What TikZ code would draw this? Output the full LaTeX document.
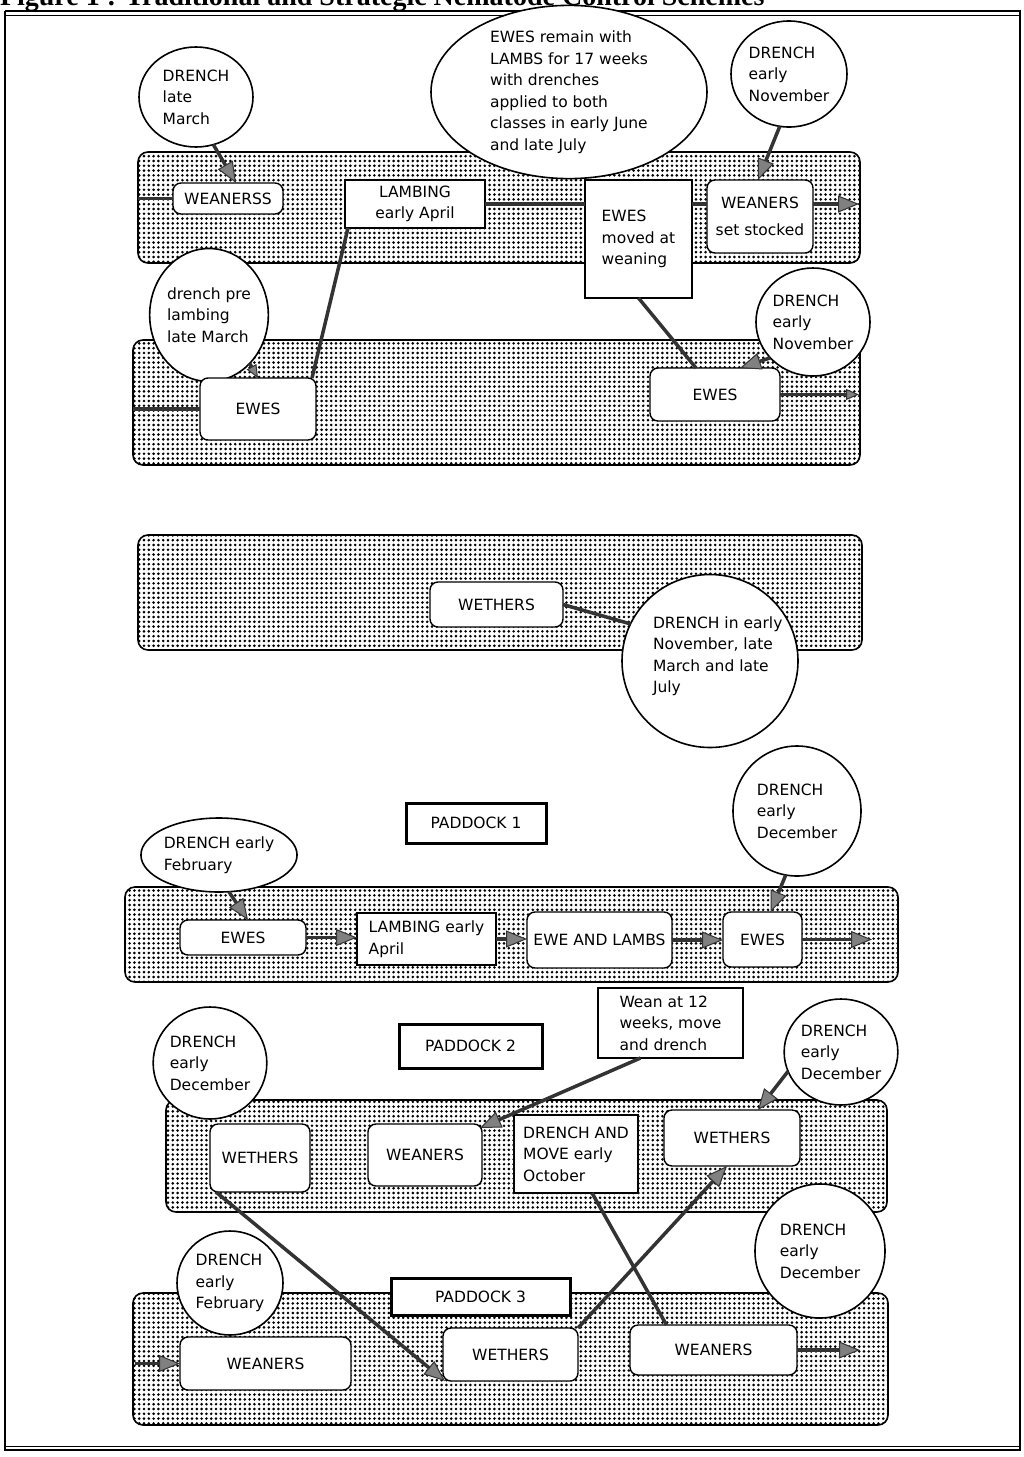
\documentclass[tikz,border=0pt]{standalone}
\usepackage{fontspec}
\setmainfont{DejaVu Sans}
\newfontfamily\titlefont{Liberation Serif}
\usetikzlibrary{shapes.geometric,arrows.meta,patterns.meta}
\begin{document}
\begin{tikzpicture}[x=1pt,y=-1pt,
  every node/.style={font=\fontsize{15.5}{21.5}\selectfont, inner sep=0pt, outer sep=0pt},
  band/.style={draw, line width=1.6pt, rounded corners=10pt, preaction={fill=white},
    pattern={Dots[distance=4.8pt,radius=1.45pt]}, pattern color=black},
  rbox/.style={draw, fill=white, line width=1.4pt, rounded corners=8pt, align=center},
  sbox/.style={draw, fill=white, line width=1.4pt, align=left},
  pbox/.style={draw, fill=white, line width=3pt},
  ell/.style={ellipse, draw, fill=white, line width=1.6pt, align=left},
  conn/.style={draw=black!80, line width=3.5pt},
  arr/.style={-{Triangle[length=21pt,width=17pt,fill=black!50,line width=1pt]}},
  sarr/.style={-{Triangle[length=13pt,width=11pt,fill=black!50,line width=1pt]}}
]
\useasboundingbox (0,0) rectangle (1024,1457);
% title (cut at the top edge) and frame
\node[anchor=base west, font=\titlefont\bfseries\fontsize{28}{28}\selectfont] (title) at (0,5) {Figure 1 : Traditional and Strategic Nematode Control Schemes};
\draw[line width=2pt] (5,11) -- (1021,11);
\draw[line width=1pt] (5,15) -- (1021,15);
\draw[line width=2.5pt] (5,11) -- (5,1451);
\draw[line width=1.5pt] (1020,11) -- (1020,1451);
\draw[line width=1pt] (5,1446) -- (1021,1446);
\draw[line width=2pt] (5,1450) -- (1021,1450);

% bands
\node[band, minimum width=722pt, minimum height=111pt] (b1) at (499,207.5) {};
\node[band, minimum width=727pt, minimum height=125pt] (b2) at (496.5,402.5) {};
\node[band, minimum width=724pt, minimum height=115pt] (b3) at (500,592.5) {};
\node[band, minimum width=773pt, minimum height=95pt] (b4) at (511.5,934.5) {};
\node[band, minimum width=721pt, minimum height=112pt] (b5) at (526.5,1156) {};
\node[band, minimum width=755pt, minimum height=132pt] (b6) at (510.5,1359) {};

% ---------- top section ----------
\node[ell, minimum width=114pt, minimum height=100pt] (d1) at (196,97) {DRENCH\\late\\March};
\node[rbox, minimum width=110pt, minimum height=31pt] (wss) at (228,198.5) {WEANERSS};
\node[sbox, align=center, minimum width=140pt, minimum height=48pt] (lamb1) at (415,204) {LAMBING\\early April};
\node[ell, minimum width=276pt, minimum height=150pt] (e1) at (569,92) {EWES remain with\\LAMBS for 17 weeks\\with drenches\\applied to both\\classes in early June\\and late July};
\node[sbox, minimum width=107pt, minimum height=118pt] (em) at (638.5,239) {EWES\\moved at\\weaning};
\node[rbox, minimum width=106pt, minimum height=73pt] (wn1) at (760,216.5) {WEANERS\\[5pt]set stocked};
\node[ell, minimum width=116pt, minimum height=106pt] (d2) at (789,74) {DRENCH\\early\\November};
\node[ell, minimum width=98pt, minimum height=133pt] (d3) at (209,315) {drench pre\\lambing\\late March};
\node[rbox, minimum width=116pt, minimum height=62pt] (ew1) at (258,409) {EWES};
\node[rbox, minimum width=130pt, minimum height=53pt] (ew2) at (715,394.5) {EWES};
\node[ell, minimum width=98pt, minimum height=108pt] (d4) at (813,322) {DRENCH\\early\\November};

\draw[conn, arr] (d1.-70) -- ([xshift=8pt]wss.north);
\draw[conn] (b1.west |- wss.west) -- (wss.west);
\draw[conn] (lamb1.east) -- (lamb1.east -| em.west);
\draw[conn] (em.east |- lamb1.east) -- (wn1.west |- lamb1.east);
\draw[conn, arr] (wn1.east |- lamb1.east) -- ([xshift=-1pt]b1.east |- lamb1.east);
\draw[conn, arr] (d2.-100) -- ([xshift=-2pt]wn1.north);
\draw[conn] ([xshift=-4pt]ew1.north east) -- ([xshift=3pt]lamb1.south west);
\draw[conn, sarr] (d3.-50) -- (ew1.north);
\draw[conn] (b2.west |- ew1.west) -- (ew1.west);
\draw[conn] (em.south) -- ([xshift=-19pt]ew2.north);
\draw[conn, arr] (d4.-140) -- ([xshift=25pt]ew2.north);
\draw[conn, sarr] (ew2.east) -- ([xshift=-1pt]b2.east |- ew2.east);

% ---------- middle section ----------
\node[rbox, minimum width=133pt, minimum height=45pt] (wt1) at (496.5,604.5) {WETHERS};
\node[ell, minimum width=176pt, minimum height=173pt] (d5) at (710,661) {};
\node[anchor=west, align=left] (d5t) at (653,656) {DRENCH in early\\November, late\\March and late\\July};
\draw[conn] (wt1.east) -- (d5.155);

% ---------- paddock 1 ----------
\node[pbox, minimum width=140pt, minimum height=40pt] (p1) at (476,823) {PADDOCK 1};
\node[ell, minimum width=136pt, minimum height=74pt] (d6) at (219,855) {DRENCH early\\February};
\node[ell, minimum width=128pt, minimum height=130pt] (d7) at (797,811) {DRENCH\\early\\December};
\node[rbox, minimum width=126pt, minimum height=35pt] (ew3) at (243,937.5) {EWES};
\node[sbox, minimum width=139pt, minimum height=52pt] (lamb2) at (426.5,939) {LAMBING early\\April};
\node[rbox, minimum width=145pt, minimum height=56pt] (eal) at (599.5,940) {EWE AND LAMBS};
\node[rbox, minimum width=79pt, minimum height=55pt] (ew4) at (762.5,939.5) {EWES};

\draw[conn, arr] (d6.-75) -- ([xshift=5pt]ew3.north);
\draw[conn, arr] (ew3.east) -- (ew3.east -| lamb2.west);
\draw[conn, arr] (lamb2.east) -- (lamb2.east -| eal.west);
\draw[conn, arr] (eal.east) -- (eal.east -| ew4.west);
\draw[conn, arr] (ew4.east) -- ([xshift=-26pt]b4.east |- ew4.east);
\draw[conn, arr] (d7.-100) -- ([xshift=8pt]ew4.north);

% ---------- paddock 2 ----------
\node[pbox, minimum width=143pt, minimum height=44pt] (p2) at (470.5,1046) {PADDOCK 2};
\node[sbox, minimum width=145pt, minimum height=70pt] (wean) at (670.5,1023) {Wean at 12\\weeks, move\\and drench};
\node[ell, minimum width=98pt, minimum height=112pt] (d8) at (210,1063) {DRENCH\\early\\December};
\node[ell, minimum width=94pt, minimum height=106pt] (d9) at (841,1052) {DRENCH\\early\\December};
\node[rbox, minimum width=100pt, minimum height=68pt] (wt2) at (260,1158) {WETHERS};
\node[rbox, minimum width=114pt, minimum height=62pt] (wn2) at (425,1155) {WEANERS};
\node[sbox, minimum width=124pt, minimum height=78pt] (dm) at (576,1154) {DRENCH AND\\MOVE early\\October};
\node[rbox, minimum width=136pt, minimum height=56pt] (wt3) at (732,1138) {WETHERS};

% ---------- paddock 3 ----------
\node[ell, minimum width=130pt, minimum height=134pt] (d10) at (820,1251) {DRENCH\\early\\December};
\node[ell, minimum width=106pt, minimum height=104pt] (d11) at (230,1283) {DRENCH\\early\\February};
\node[pbox, minimum width=179pt, minimum height=37pt] (p3) at (480.5,1296.5) {PADDOCK 3};
\node[rbox, minimum width=171pt, minimum height=53pt] (wn3) at (265.5,1363.5) {WEANERS};
\node[rbox, minimum width=135pt, minimum height=53pt] (wt4) at (510.5,1354.5) {WETHERS};
\node[rbox, minimum width=167pt, minimum height=50pt] (wn4) at (713.5,1350) {WEANERS};

\draw[conn, arr] ([xshift=-30pt]wean.south) -- ([xshift=-2pt,yshift=-4pt]wn2.north east);
\draw[conn, arr] (d9.-160) -- ([xshift=26pt]wt3.north);
\draw[conn, arr] ([xshift=6pt]wt2.south west) -- ([xshift=2pt]wt4.south west);
\draw[conn] ([xshift=16pt]dm.south) -- ([xshift=-47pt]wn4.north);
\draw[conn, arr] (wt4.north east) -- ([xshift=-5pt]wt3.south);
\draw[conn, arr] ([xshift=2pt]b6.west |- wn3.west) -- (wn3.west);
\draw[conn, arr] (wn4.east) -- ([xshift=-28pt]b6.east |- wn4.east);
\end{tikzpicture}
\end{document}
